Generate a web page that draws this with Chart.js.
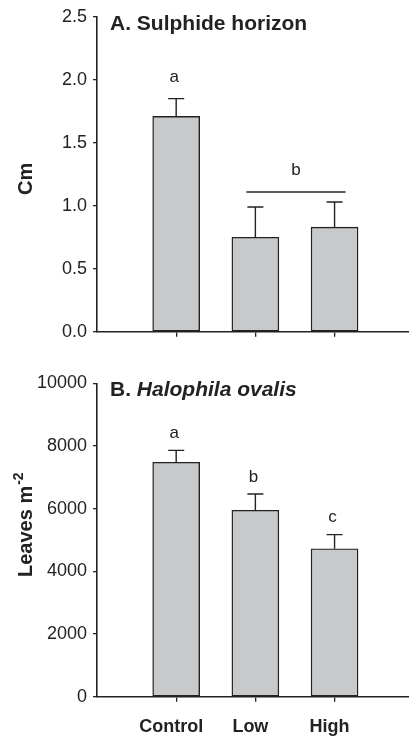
<!DOCTYPE html>
<html>
<head>
<meta charset="utf-8">
<script src="https://cdn.jsdelivr.net/npm/chart.js@4.4.1/dist/chart.umd.min.js"></script>
<style>
  html, body { margin: 0; padding: 0; background: #fff; }
  .panel { position: absolute; left: 0; width: 409px; }
  #wrapA { top: 0; height: 360px; }
  #wrapB { top: 360px; height: 377px; }
</style>
</head>
<body>
<div class="panel" id="wrapA"><canvas id="chartA"></canvas></div>
<div class="panel" id="wrapB"><canvas id="chartB"></canvas></div>
<script>
/* data */
const treatments = ["Control", "Low", "High"];

const sulphideDepth = [1.71, 0.75, 0.83];
const sulphideSE = [0.14, 0.24, 0.20];
const sulphideLetters = ["a", "b", "b"];
const sulphideTicks = [0, 0.5, 1, 1.5, 2, 2.5];

const leafDensity = [7480, 5950, 4720];
const leafSE = [380, 520, 450];
const leafLetters = ["a", "b", "c"];
const leafTicks = [0, 2000, 4000, 6000, 8000, 10000];

const INK = "#222";
const FILL = "#c8c9cb";
const FONT = "'Liberation Sans', Arial, sans-serif";

/* error bars, significance letters, panel title and y title */
const annotate = {
  id: "annotate",
  afterDatasetsDraw(chart, args, o) {
    const ctx = chart.ctx;
    const xs = chart.scales.x;
    const ys = chart.scales.y;
    ctx.save();
    ctx.strokeStyle = INK;
    ctx.lineWidth = 1.4;
    const tops = [];
    o.values.forEach((v, i) => {
      const cx = xs.getPixelForValue(i);
      const base = ys.getPixelForValue(v);
      const end = ys.getPixelForValue(v + o.se[i]);
      tops.push(end);
      ctx.beginPath();
      ctx.moveTo(cx, base);
      ctx.lineTo(cx, end);
      ctx.moveTo(cx - 8, end);
      ctx.lineTo(cx + 8, end);
      ctx.stroke();
    });

    ctx.fillStyle = INK;
    ctx.font = "17px " + FONT;
    ctx.textAlign = "center";
    ctx.textBaseline = "middle";
    const grp = o.group || [];
    o.letters.forEach((l, i) => {
      if (grp.includes(i)) return;
      ctx.fillText(l, xs.getPixelForValue(i) - 2, tops[i] - o.letterGap);
    });
    if (grp.length) {
      const first = grp[0], last = grp[grp.length - 1];
      const lineY = Math.min(...grp.map(i => tops[i])) - 10;
      const x0 = xs.getPixelForValue(first) - 9;
      const x1 = xs.getPixelForValue(last) + 11;
      ctx.beginPath();
      ctx.moveTo(x0, lineY);
      ctx.lineTo(x1, lineY);
      ctx.stroke();
      ctx.fillText(o.letters[first], (x0 + x1) / 2, lineY - 22);
    }

    // panel title
    const area = chart.chartArea;
    ctx.textAlign = "left";
    let tx = area.left + 13;
    const ty = area.top + 7;
    ctx.font = "bold 21px " + FONT;
    ctx.fillText(o.title[0], tx, ty);
    if (o.title[1]) {
      tx += ctx.measureText(o.title[0]).width;
      ctx.font = "italic bold 21px " + FONT;
      ctx.fillText(o.title[1], tx, ty);
    }

    // y axis title, rotated
    ctx.translate(26, o.yTitleStart);
    ctx.rotate(-Math.PI / 2);
    ctx.font = "bold 20px " + FONT;
    ctx.textAlign = "left";
    ctx.fillText(o.yTitle, 0, 0);
    if (o.yTitleSup) {
      const w = ctx.measureText(o.yTitle).width;
      ctx.font = "bold 14px " + FONT;
      ctx.fillText(o.yTitleSup, w + 1, -7);
    }
    ctx.restore();
  }
};

function makeChart(id, opt) {
  const data = treatments.map((t, i) => ({ x: i, y: opt.values[i] }));
  return new Chart(document.getElementById(id), {
    type: "bar",
    data: {
      datasets: [{
        data: data,
        backgroundColor: FILL,
        borderColor: INK,
        borderWidth: 1.4,
        borderSkipped: false,
        barThickness: 47,
      }],
    },
    options: {
      responsive: true,
      maintainAspectRatio: false,
      animation: false,
      events: [],
      layout: { padding: { top: opt.padTop, left: 0, right: 0, bottom: 0 } },
      scales: {
        x: {
          type: "linear",
          min: -1,
          max: 2.94,
          offset: false,
          afterBuildTicks: s => { s.ticks = treatments.map((t, i) => ({ value: i })); },
          afterFit: s => { s.height = opt.xHeight; },
          grid: {
            offset: false,
            drawOnChartArea: false,
            drawTicks: true,
            tickLength: 5,
            color: INK,
            lineWidth: 1.3,
          },
          border: { display: true, color: INK, width: 1.6 },
          ticks: {
            padding: 15,
            labelOffset: -5,
            color: INK,
            font: { family: FONT, size: 18, weight: "bold" },
            callback: v => (opt.showLabels ? treatments[v] : ""),
          },
        },
        y: {
          min: opt.ticks[0],
          max: opt.ticks[opt.ticks.length - 1],
          afterBuildTicks: s => { s.ticks = opt.ticks.map(v => ({ value: v })); },
          afterFit: s => { s.width = 97; },
          grid: {
            drawOnChartArea: false,
            drawTicks: true,
            tickLength: 4,
            color: INK,
            lineWidth: 1.3,
          },
          border: { display: true, color: INK, width: 1.6 },
          ticks: {
            padding: 6,
            color: INK,
            font: { family: FONT, size: 18 },
            callback: opt.fmt,
          },
        },
      },
      plugins: {
        legend: { display: false },
        tooltip: { enabled: false },
        annotate: opt.notes,
      },
    },
    plugins: [annotate],
  });
}

makeChart("chartA", {
  values: sulphideDepth,
  ticks: sulphideTicks,
  padTop: 15.3,
  xHeight: 28.3,
  showLabels: false,
  fmt: v => v.toFixed(1),
  notes: {
    values: sulphideDepth,
    se: sulphideSE,
    letters: sulphideLetters,
    letterGap: 21,
    group: [1, 2],
    title: ["A. Sulphide horizon"],
    yTitle: "Cm",
    yTitleStart: 195,
  },
});

makeChart("chartB", {
  values: leafDensity,
  ticks: leafTicks,
  padTop: 23.3,
  xHeight: 40.3,
  showLabels: true,
  fmt: v => String(v),
  notes: {
    values: leafDensity,
    se: leafSE,
    letters: leafLetters,
    letterGap: 17,
    title: ["B. ", "Halophila ovalis"],
    yTitle: "Leaves m",
    yTitleSup: "-2",
    yTitleStart: 217,
  },
});
</script>
</body>
</html>
